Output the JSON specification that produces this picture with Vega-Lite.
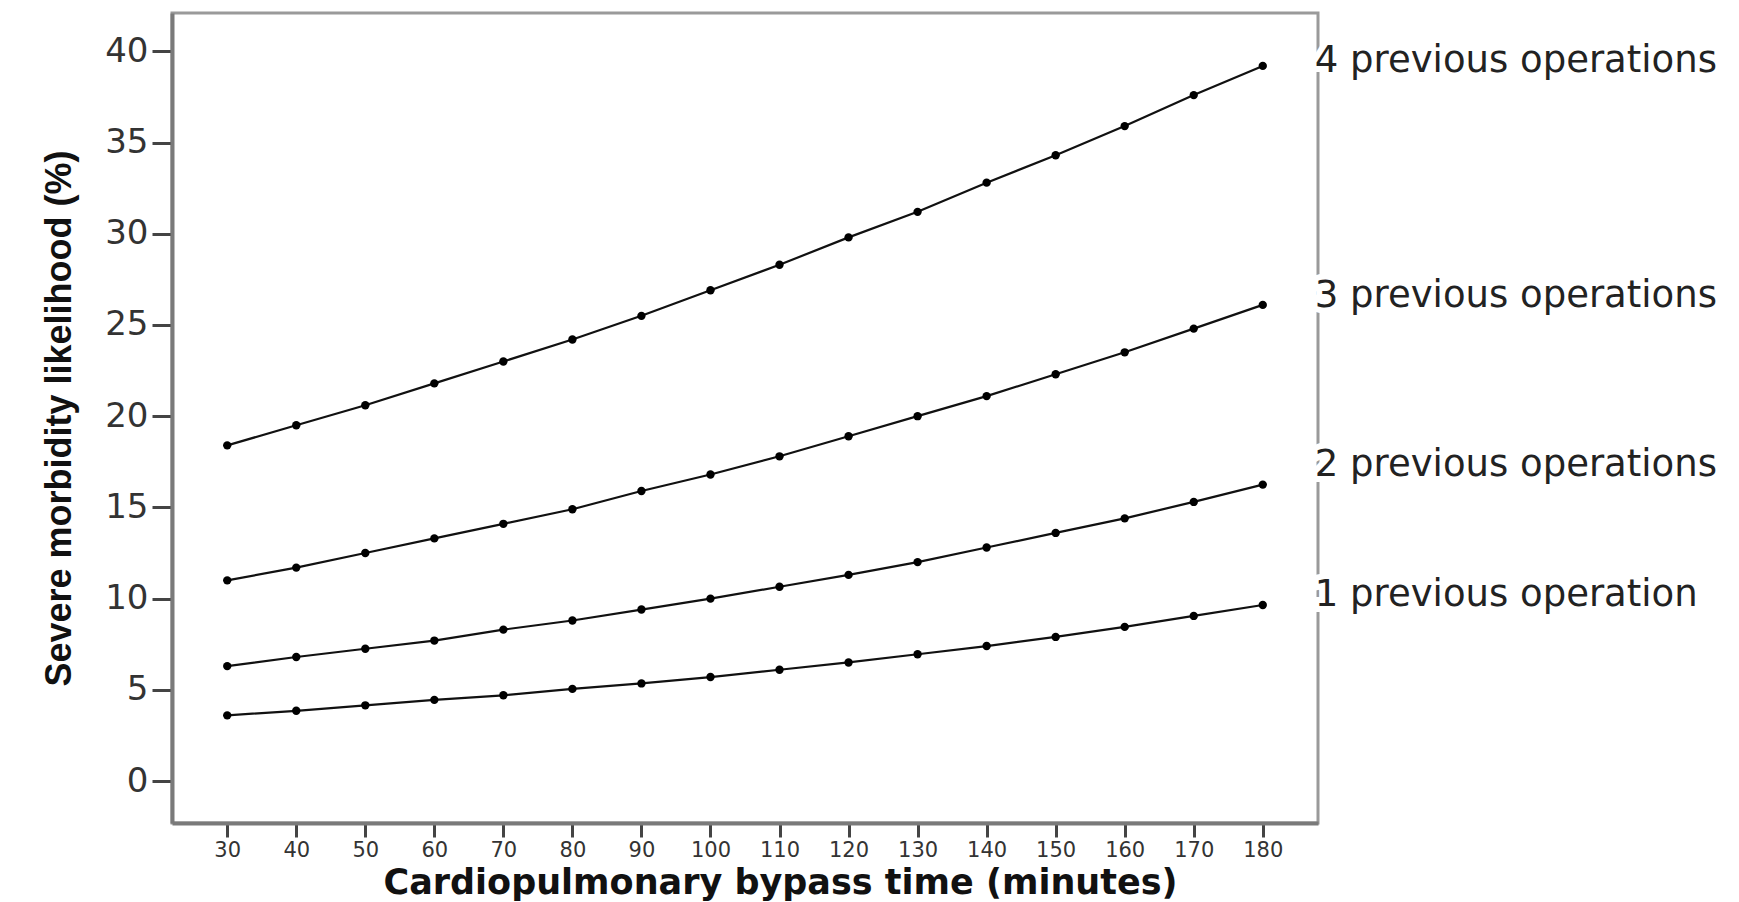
{
  "$schema": "https://vega.github.io/schema/vega-lite/v6.json",
  "width": 1146,
  "height": 810,
  "autosize": {"type": "none"},
  "padding": {"left": 172, "top": 13, "right": 421, "bottom": 79},
  "background": "white",
  "config": {"view": {"stroke": "#9a9a9a", "strokeWidth": 3}, "font": "DejaVu Sans"},
  "datasets": {
    "curves": [
      {"series": "4", "time": 30, "pct": 18.4}, {"series": "4", "time": 40, "pct": 19.5}, {"series": "4", "time": 50, "pct": 20.6}, {"series": "4", "time": 60, "pct": 21.8},
      {"series": "4", "time": 70, "pct": 23.0}, {"series": "4", "time": 80, "pct": 24.2}, {"series": "4", "time": 90, "pct": 25.5}, {"series": "4", "time": 100, "pct": 26.9},
      {"series": "4", "time": 110, "pct": 28.3}, {"series": "4", "time": 120, "pct": 29.8}, {"series": "4", "time": 130, "pct": 31.2}, {"series": "4", "time": 140, "pct": 32.8},
      {"series": "4", "time": 150, "pct": 34.3}, {"series": "4", "time": 160, "pct": 35.9}, {"series": "4", "time": 170, "pct": 37.6}, {"series": "4", "time": 180, "pct": 39.2},
      {"series": "3", "time": 30, "pct": 11.0}, {"series": "3", "time": 40, "pct": 11.7}, {"series": "3", "time": 50, "pct": 12.5}, {"series": "3", "time": 60, "pct": 13.3},
      {"series": "3", "time": 70, "pct": 14.1}, {"series": "3", "time": 80, "pct": 14.9}, {"series": "3", "time": 90, "pct": 15.9}, {"series": "3", "time": 100, "pct": 16.8},
      {"series": "3", "time": 110, "pct": 17.8}, {"series": "3", "time": 120, "pct": 18.9}, {"series": "3", "time": 130, "pct": 20.0}, {"series": "3", "time": 140, "pct": 21.1},
      {"series": "3", "time": 150, "pct": 22.3}, {"series": "3", "time": 160, "pct": 23.5}, {"series": "3", "time": 170, "pct": 24.8}, {"series": "3", "time": 180, "pct": 26.1},
      {"series": "2", "time": 30, "pct": 6.3}, {"series": "2", "time": 40, "pct": 6.8}, {"series": "2", "time": 50, "pct": 7.25}, {"series": "2", "time": 60, "pct": 7.7},
      {"series": "2", "time": 70, "pct": 8.3}, {"series": "2", "time": 80, "pct": 8.8}, {"series": "2", "time": 90, "pct": 9.4}, {"series": "2", "time": 100, "pct": 10.0},
      {"series": "2", "time": 110, "pct": 10.65}, {"series": "2", "time": 120, "pct": 11.3}, {"series": "2", "time": 130, "pct": 12.0}, {"series": "2", "time": 140, "pct": 12.8},
      {"series": "2", "time": 150, "pct": 13.6}, {"series": "2", "time": 160, "pct": 14.4}, {"series": "2", "time": 170, "pct": 15.3}, {"series": "2", "time": 180, "pct": 16.25},
      {"series": "1", "time": 30, "pct": 3.6}, {"series": "1", "time": 40, "pct": 3.85}, {"series": "1", "time": 50, "pct": 4.15}, {"series": "1", "time": 60, "pct": 4.45},
      {"series": "1", "time": 70, "pct": 4.7}, {"series": "1", "time": 80, "pct": 5.05}, {"series": "1", "time": 90, "pct": 5.35}, {"series": "1", "time": 100, "pct": 5.7},
      {"series": "1", "time": 110, "pct": 6.1}, {"series": "1", "time": 120, "pct": 6.5}, {"series": "1", "time": 130, "pct": 6.95}, {"series": "1", "time": 140, "pct": 7.4},
      {"series": "1", "time": 150, "pct": 7.9}, {"series": "1", "time": 160, "pct": 8.45}, {"series": "1", "time": 170, "pct": 9.05}, {"series": "1", "time": 180, "pct": 9.65}
    ],
    "labels": [
      {"label": "4 previous operations", "time": 180, "pct": 39.45},
      {"label": "3 previous operations", "time": 180, "pct": 26.6},
      {"label": "2 previous operations", "time": 180, "pct": 17.3},
      {"label": "1 previous operation", "time": 180, "pct": 10.2}
    ]
  },
  "encoding": {
    "x": {
      "field": "time", "type": "quantitative",
      "scale": {"domain": [22, 188], "nice": false, "zero": false},
      "axis": {
        "values": [30, 40, 50, 60, 70, 80, 90, 100, 110, 120, 130, 140, 150, 160, 170, 180],
        "grid": false, "labelFontSize": 21, "labelFont": "DejaVu Sans", "labelColor": "#333",
        "tickSize": 14, "tickWidth": 3, "tickColor": "#444", "labelPadding": 2,
        "domainColor": "#7a7a7a", "domainWidth": 4, "labelFlush": false,
        "title": "Cardiopulmonary bypass time (minutes)", "titleFont": "DejaVu Sans",
        "titleFontSize": 35, "titleFontWeight": "bold", "titleColor": "#111",
        "titleX": 608, "titleAlign": "center", "titlePadding": 5
      }
    },
    "y": {
      "field": "pct", "type": "quantitative",
      "scale": {"domain": [-2.3, 42.1], "nice": false, "zero": false},
      "axis": {
        "values": [0, 5, 10, 15, 20, 25, 30, 35, 40],
        "grid": false, "labelFontSize": 34, "labelFont": "DejaVu Sans", "labelColor": "#333",
        "tickSize": 20, "tickWidth": 3, "tickColor": "#444", "labelPadding": 4,
        "domainColor": "#7a7a7a", "domainWidth": 4, "labelFlush": false,
        "title": "Severe morbidity likelihood (%)", "titleFont": "Liberation Sans",
        "titleFontSize": 36, "titleFontWeight": "bold", "titleColor": "#111", "titlePadding": 26
      }
    }
  },
  "layer": [
    {"data": {"name": "curves"}, "mark": {"type": "line", "color": "#111", "strokeWidth": 2.2}, "encoding": {"detail": {"field": "series", "type": "nominal"}}},
    {"data": {"name": "curves"}, "mark": {"type": "point", "filled": true, "color": "#000", "size": 70, "opacity": 1}, "encoding": {}},
    {"data": {"name": "labels"}, "mark": {"type": "text", "align": "left", "baseline": "middle", "dx": 52, "font": "DejaVu Sans", "fontSize": 37, "color": "white", "stroke": "white", "strokeWidth": 12}, "encoding": {"text": {"field": "label"}}},
    {"data": {"name": "labels"}, "mark": {"type": "text", "align": "left", "baseline": "middle", "dx": 52, "font": "DejaVu Sans", "fontSize": 37, "color": "#222"}, "encoding": {"text": {"field": "label"}}}
  ]
}
